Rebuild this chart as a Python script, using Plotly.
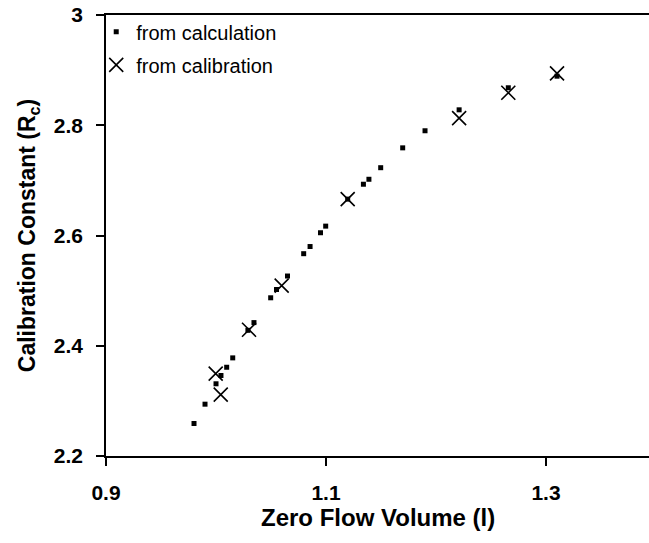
import plotly.graph_objects as go

# from calculation (squares)
calc_x = [0.980, 0.990, 1.000, 1.0045, 1.0097, 1.0152, 1.029, 1.0345, 1.0497, 1.055,
          1.065, 1.0797, 1.0855, 1.095, 1.0997, 1.1197, 1.134, 1.139, 1.1497, 1.1697,
          1.190, 1.221, 1.2657, 1.310]
calc_y = [2.259, 2.294, 2.331, 2.346, 2.361, 2.378, 2.428, 2.442, 2.487, 2.502,
          2.5265, 2.567, 2.580, 2.605, 2.617, 2.666, 2.693, 2.702, 2.723, 2.759,
          2.790, 2.828, 2.868, 2.889]

# from calibration (crosses)
cal_x = [0.9997, 1.0043, 1.030, 1.0597, 1.1197, 1.221, 1.2657, 1.310]
cal_y = [2.3495, 2.3114, 2.429, 2.509, 2.666, 2.813, 2.859, 2.894]

x_ticks = [0.9, 1.1, 1.3]
x_tick_labels = ["0.9", "1.1", "1.3"]
y_ticks = [2.2, 2.4, 2.6, 2.8, 3.0]
y_tick_labels = ["2.2", "2.4", "2.6", "2.8", "3"]

x_title = "Zero Flow Volume (l)"
y_title = "Calibration Constant (R<sub>c</sub>)"

FONT = "Liberation Sans, Arial, Helvetica, sans-serif"

fig = go.Figure()
fig.add_trace(go.Scatter(
    x=calc_x, y=calc_y, mode="markers", name="from calculation",
    legendgroup="a",
    marker=dict(symbol="square", size=5, color="black"),
))
fig.add_trace(go.Scatter(
    x=cal_x, y=cal_y, mode="markers", name="from calibration",
    legendgroup="b",
    marker=dict(symbol="x-thin", size=14, color="black",
                line=dict(width=1.6, color="black")),
))

fig.update_layout(
    width=649, height=543,
    margin=dict(l=106, r=0, t=15, b=87),
    plot_bgcolor="white", paper_bgcolor="white",
    font=dict(family=FONT, color="black"),
    showlegend=True,
    legend=dict(x=-0.018, y=1.006, xanchor="left", yanchor="top",
                bgcolor="rgba(0,0,0,0)", font=dict(size=20),
                traceorder="grouped", tracegroupgap=4),
    xaxis=dict(
        range=[0.9, 1.3936], tickvals=x_ticks, ticktext=x_tick_labels,
        automargin=False, ticklabeloverflow="allow",
        showgrid=False, zeroline=False, showline=True, linecolor="black",
        linewidth=1.5, mirror=True, ticks="outside", ticklen=8, tickwidth=1.5,
        tickcolor="black", ticklabelstandoff=9,
        tickfont=dict(size=21, family=FONT, weight="bold"),
    ),
    yaxis=dict(
        range=[2.2, 3.0], tickvals=y_ticks, ticktext=y_tick_labels,
        automargin=False, ticklabeloverflow="allow",
        showgrid=False, zeroline=False, showline=True, linecolor="black",
        linewidth=1.5, ticks="outside", ticklen=8, tickwidth=1.5,
        tickcolor="black", ticklabelstandoff=9,
        tickfont=dict(size=21, family=FONT, weight="bold"),
        title=dict(text="<b>" + y_title + "</b>", standoff=12,
                   font=dict(size=23)),
    ),
    annotations=[dict(
        text="<b>" + x_title + "</b>", xref="paper", yref="paper",
        x=0.5, y=-0.14, xanchor="center", yanchor="middle",
        showarrow=False, font=dict(size=24, family=FONT),
    )],
)

# remove the page's default body margin so the figure sits at the window's corner
fig.write_html("out.html", config={"displayModeBar": False},
               post_script="document.body.style.margin='0px';")
